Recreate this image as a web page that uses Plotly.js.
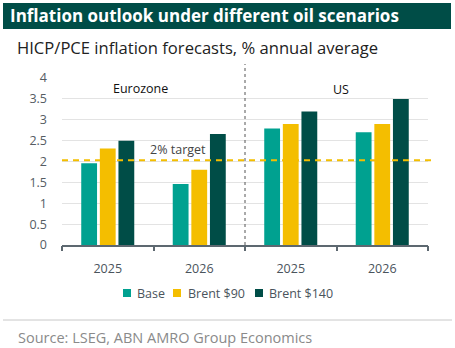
<!DOCTYPE html>
<html>
<head>
<meta charset="utf-8">
<script src="https://cdn.plot.ly/plotly-3.0.1.min.js"></script>
<style>
html,body{margin:0;padding:0;background:#fff;}
#chart{width:455px;height:348px;}
</style>
</head>
<body>
<div id="chart"></div>
<script>
// Data
const positions = [0, 1, 2, 3];
const yearLabels = ["2025", "2026", "2025", "2026"];
const regionLabels = ["Eurozone", "US"];
const seriesNames = ["Base", "Brent $90", "Brent $140"];
const baseValues = [1.96, 1.46, 2.79, 2.70];
const brent90Values = [2.31, 1.80, 2.90, 2.90];
const brent140Values = [2.50, 2.66, 3.20, 3.50];
const targetValue = 2.03;
const targetLabel = "2% target";
const yTicks = [0, 0.5, 1, 1.5, 2, 2.5, 3, 3.5, 4];

const colors = ["#00A190", "#F4BE00", "#004D47"];
const allValues = [baseValues, brent90Values, brent140Values];

const FONT = "Open Sans, Lato, sans-serif";

// plot area in px: left 62, right 428, top 78, bottom 245
const PL = 62, PR = 428, PT = 78, PB = 245;
const PW = PR - PL, PH = PB - PT;
const px = x => (x - PL) / PW;
const py = y => (PB - y) / PH;

const traces = seriesNames.map((name, i) => ({
  type: "bar",
  name: name,
  x: positions,
  y: allValues[i],
  marker: {color: colors[i], line: {width: 0}},
  showlegend: false,
  hoverinfo: "skip"
}));

// invisible trace for boundary tick axis
traces.push({
  type: "scatter", x: [-0.5, 3.5], y: [0, 0], xaxis: "x2", yaxis: "y",
  mode: "markers", marker: {opacity: 0}, showlegend: false, hoverinfo: "skip"
});

// custom legend (square + label) positions in px
const legSquareX = [123, 173, 255];
const legTextX = [135, 185.5, 267];
const legY = 293;

const legendShapes = seriesNames.map((n, i) => ({
  type: "rect", xref: "paper", yref: "paper",
  x0: px(legSquareX[i]), x1: px(legSquareX[i] + 8),
  y0: py(legY + 4), y1: py(legY - 4),
  fillcolor: colors[i], line: {width: 0}
}));
const legendAnn = seriesNames.map((n, i) => ({
  xref: "paper", yref: "paper", x: px(legTextX[i]), y: py(legY), xanchor: "left", yanchor: "middle",
  text: n, showarrow: false,
  font: {family: FONT, size: 12.5, color: "#4a545c"}
}));

const layout = {
  width: 455, height: 348,
  margin: {l: PL, r: 455 - PR, t: PT, b: 348 - PB, pad: 0},
  paper_bgcolor: "#ffffff",
  plot_bgcolor: "#ffffff",
  font: {family: FONT, size: 12, color: "#555c63"},
  barmode: "group",
  bargap: 0.39,
  bargroupgap: 0.15,
  showlegend: false,
  xaxis: {
    range: [-0.5, 3.5],
    tickvals: positions,
    ticktext: yearLabels,
    ticks: "",
    ticklabelstandoff: 11,
    showgrid: false,
    zeroline: false,
    showline: true,
    linecolor: "#5d6870",
    linewidth: 2,
    tickfont: {family: FONT, size: 12.5, color: "#4a545c"},
    fixedrange: true
  },
  xaxis2: {
    overlaying: "x",
    side: "bottom",
    anchor: "y",
    range: [-0.5, 3.5],
    tickvals: [-0.5, 0.5, 1.5, 2.5, 3.5],
    ticks: "outside",
    ticklen: 5,
    tickwidth: 2,
    tickcolor: "#5d6870",
    showticklabels: false,
    showgrid: false,
    zeroline: false,
    showline: false,
    fixedrange: true
  },
  yaxis: {
    range: [0, 4],
    tickvals: yTicks,
    ticktext: yTicks.map(v => String(v)),
    showgrid: true,
    gridcolor: "#e3e3e3",
    gridwidth: 1,
    zeroline: false,
    showline: false,
    ticks: "",
    ticklabelstandoff: 14,
    tickfont: {family: FONT, size: 12.5, color: "#555c63"},
    fixedrange: true
  },
  shapes: [
    // title bar
    {type: "rect", xref: "paper", yref: "paper",
     x0: px(3), x1: px(451), y0: py(29), y1: py(3),
     fillcolor: "#004D47", line: {width: 0}, layer: "above"},
    // target line
    {type: "line", xref: "paper", yref: "y",
     x0: 0, x1: px(431), y0: targetValue, y1: targetValue,
     line: {color: "#F4BE00", width: 2, dash: "6px,5px"}, layer: "above"},
    // divider
    {type: "line", xref: "x", yref: "paper",
     x0: 1.5, x1: 1.5, y0: 0, y1: py(64),
     line: {color: "#555555", width: 1, dash: "dot"}, layer: "above"},
    // separator line near bottom
    {type: "line", xref: "paper", yref: "paper",
     x0: px(3), x1: px(452), y0: py(320), y1: py(320),
     line: {color: "#c8c8c8", width: 1}}
  ].concat(legendShapes),
  annotations: [
    {xref: "paper", yref: "paper", x: px(8), y: py(16), xanchor: "left", yanchor: "middle",
     text: "<b>Inflation outlook under different oil scenarios</b>", showarrow: false,
     font: {family: FONT, size: 17, color: "#ffffff"}},
    {xref: "paper", yref: "paper", x: px(15), y: py(47), xanchor: "left", yanchor: "middle",
     text: "HICP/PCE inflation forecasts, % annual average", showarrow: false,
     font: {family: FONT, size: 16.6, color: "#222222"}},
    {xref: "paper", yref: "paper", x: px(140), y: py(88), xanchor: "center", yanchor: "middle",
     text: regionLabels[0], showarrow: false,
     font: {family: FONT, size: 12.5, color: "#111111"}},
    {xref: "paper", yref: "paper", x: px(341), y: py(89), xanchor: "center", yanchor: "middle",
     text: regionLabels[1], showarrow: false,
     font: {family: FONT, size: 12.5, color: "#111111"}},
    {xref: "paper", yref: "paper", x: px(178), y: py(149), xanchor: "center", yanchor: "middle",
     text: targetLabel, showarrow: false,
     font: {family: FONT, size: 12.5, color: "#444444"}},
    {xref: "paper", yref: "paper", x: px(16), y: py(337), xanchor: "left", yanchor: "middle",
     text: "Source: LSEG, ABN AMRO Group Economics", showarrow: false,
     font: {family: FONT, size: 14.5, color: "#8a8a8a"}}
  ].concat(legendAnn)
};

Plotly.newPlot("chart", traces, layout, {staticPlot: true, displayModeBar: false});
</script>
</body>
</html>
